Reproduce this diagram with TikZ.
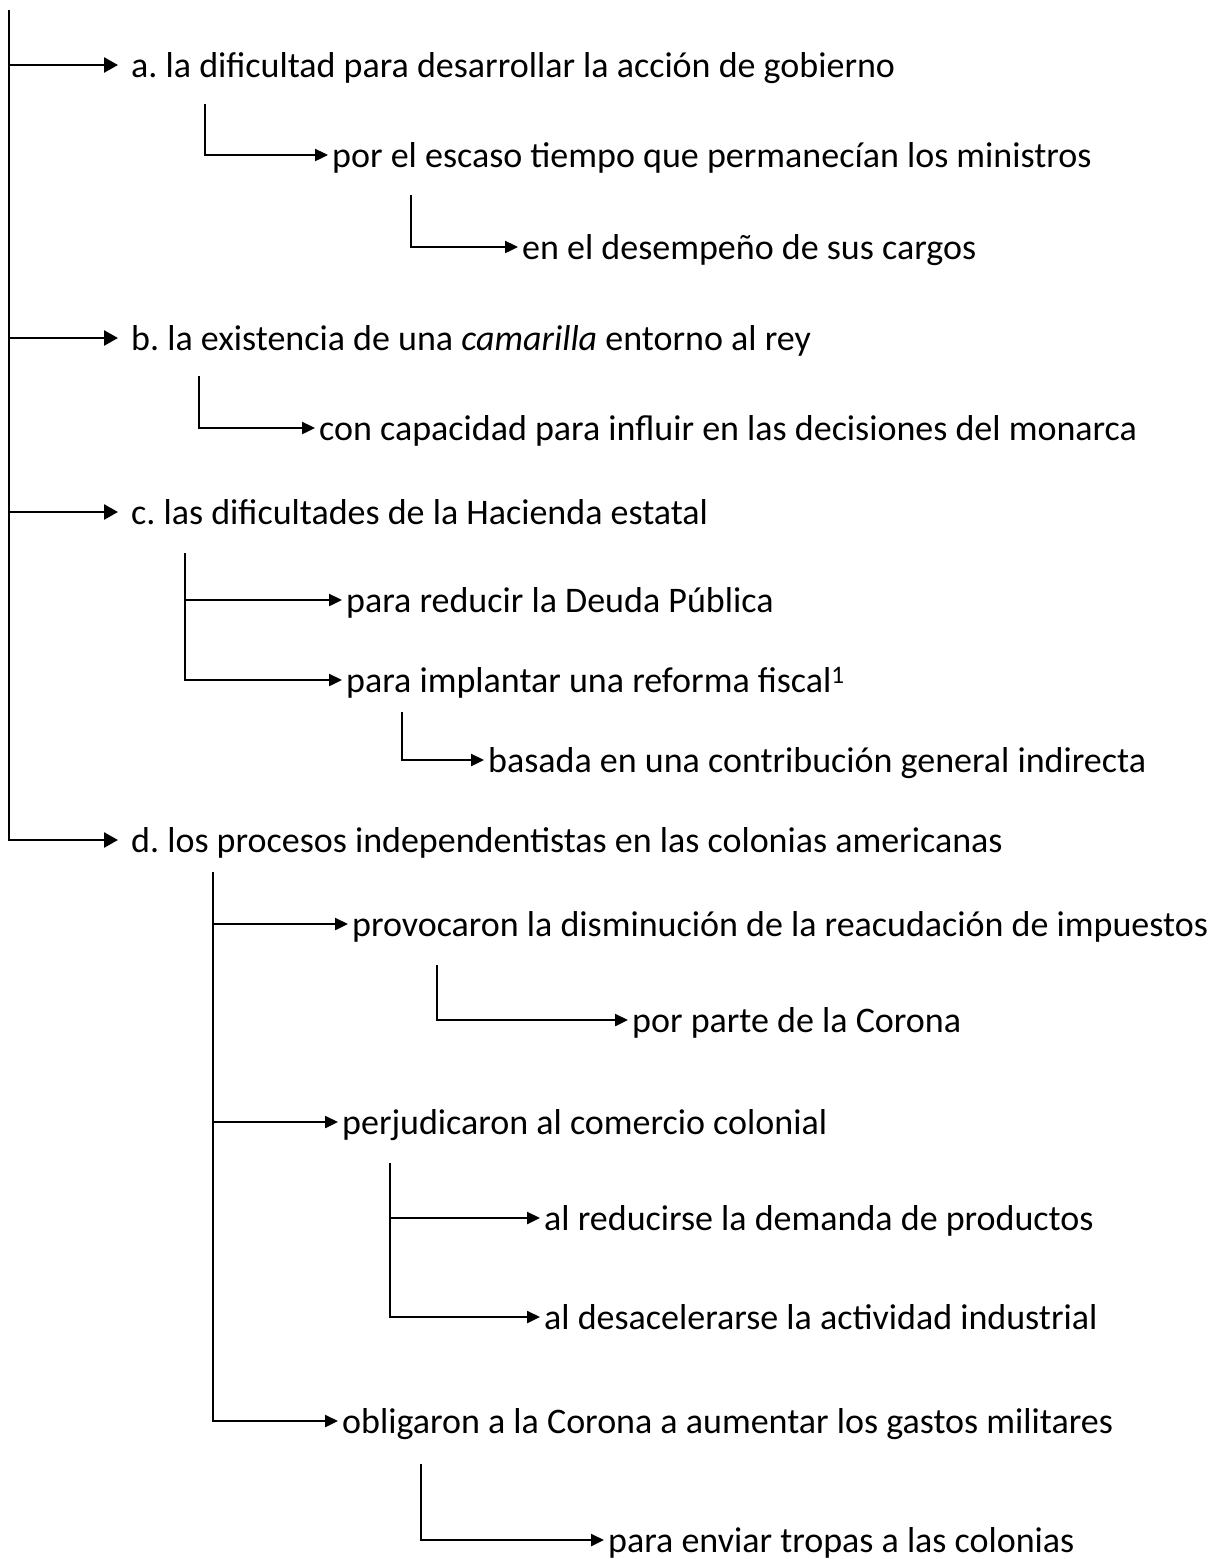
\documentclass[tikz,border=0pt]{standalone}
\usepackage{fontspec}
\setmainfont{Carlito}
\usetikzlibrary{arrows.meta}
\frenchspacing

\begin{document}
\begin{tikzpicture}[x=1pt, y=-1pt, font=\fontsize{36}{40}\selectfont,
top_style/.style={anchor=west, inner xsep=13pt, inner ysep=0pt, text height=25pt, text depth=0pt},
item_style/.style={anchor=west, inner xsep=4pt, inner ysep=0pt, text height=25pt, text depth=0pt},
edge_style/.style={draw=black, line width=2.6pt, -{Triangle[length=14pt,width=15pt]}},
sub_edge_style/.style={draw=black, line width=2.4pt, -{Triangle[length=13pt,width=12pt]}}]
\useasboundingbox (0,0) rectangle (1211,1559);

% main branches
\coordinate (root) at (9,10);
\node[top_style] (a) at (118,65) {a. la dificultad para desarrollar la acción de gobierno};
\node[top_style] (b) at (118,338) {b. la existencia de una \textit{camarilla} entorno al rey};
\node[top_style] (c) at (118,512) {c. las dificultades de la Hacienda estatal};
\node[top_style] (d) at (118,840) {d. los procesos independentistas en las colonias americanas};

% a
\coordinate (ta) at (205,104);
\node[item_style] (a1) at (328,155) {por el escaso tiempo que permanecían los ministros};
\coordinate (ta1) at (411,195);
\node[item_style] (a11) at (518,247) {en el desempeño de sus cargos};

% b
\coordinate (tb) at (199,376);
\node[item_style] (b1) at (315,428) {con capacidad para influir en las decisiones del monarca};

% c
\coordinate (tc) at (185,553);
\node[item_style] (c1) at (342,600) {para reducir la Deuda Pública};
\node[item_style] (c2) at (342,680) {para implantar una reforma fiscal\textsuperscript{1}};
\coordinate (tc2) at (402,712);
\node[item_style] (c21) at (484,760) {basada en una contribución general indirecta};

% d
\coordinate (td) at (213,872);
\node[item_style] (d1) at (348,924) {provocaron la disminución de la reacudación de impuestos};
\coordinate (td1) at (437,965);
\node[item_style] (d11) at (628,1020) {por parte de la Corona};
\node[item_style] (d2) at (338,1122) {perjudicaron al comercio colonial};
\coordinate (td2) at (390,1163);
\node[item_style] (d21) at (540,1218) {al reducirse la demanda de productos};
\node[item_style] (d22) at (540,1317) {al desacelerarse la actividad industrial};
\node[item_style] (d3) at (338,1421) {obligaron a la Corona a aumentar los gastos militares};
\coordinate (td3) at (421,1464);
\node[item_style] (d31) at (604,1540) {para enviar tropas a las colonias};

\draw[edge_style] (root) |- (a.west);
\draw[edge_style] (root) |- (b.west);
\draw[edge_style] (root) |- (c.west);
\draw[edge_style] (root) |- (d.west);

\draw[sub_edge_style] (ta) |- (a1.west);
\draw[sub_edge_style] (ta1) |- (a11.west);
\draw[sub_edge_style] (tb) |- (b1.west);
\draw[sub_edge_style] (tc) |- (c1.west);
\draw[sub_edge_style] (tc) |- (c2.west);
\draw[sub_edge_style] (tc2) |- (c21.west);
\draw[sub_edge_style] (td) |- (d1.west);
\draw[sub_edge_style] (td1) |- (d11.west);
\draw[sub_edge_style] (td) |- (d2.west);
\draw[sub_edge_style] (td2) |- (d21.west);
\draw[sub_edge_style] (td2) |- (d22.west);
\draw[sub_edge_style] (td) |- (d3.west);
\draw[sub_edge_style] (td3) |- (d31.west);
\end{tikzpicture}
\end{document}
